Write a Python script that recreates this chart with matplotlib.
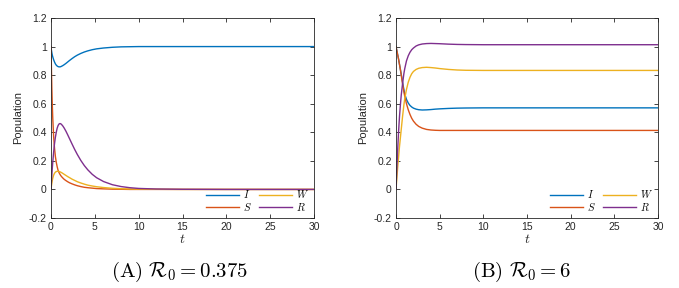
import matplotlib
matplotlib.use('Agg')
import matplotlib.pyplot as plt

plt.rcParams['font.family'] = ['Liberation Sans', 'DejaVu Sans']
plt.rcParams['mathtext.fontset'] = 'cm'

# panel A: R0 = 0.375
t_a = [0, 0.05, 0.1, 0.15, 0.2, 0.3, 0.4, 0.5, 0.6, 0.7, 0.8, 0.9, 1, 1.1, 1.2, 1.35, 1.5, 1.7, 1.9,
       2.1, 2.4, 2.7, 3, 3.4, 3.8, 4.2, 4.7, 5.2, 6, 7, 8, 9, 10, 12, 15, 20, 25, 30]
I_a = [1, 0.975, 0.955, 0.94, 0.928, 0.908, 0.892, 0.879, 0.87, 0.864, 0.86, 0.858, 0.858, 0.859,
       0.862, 0.867, 0.873, 0.882, 0.892, 0.902, 0.916, 0.929, 0.94, 0.952, 0.962, 0.97, 0.978,
       0.984, 0.99, 0.995, 0.998, 0.999, 1, 1, 1, 1, 1, 1]
S_a = [1, 0.84, 0.7, 0.59, 0.5, 0.37, 0.29, 0.23, 0.19, 0.16, 0.135, 0.12, 0.108, 0.098, 0.09,
       0.08, 0.071, 0.062, 0.054, 0.047, 0.039, 0.032, 0.026, 0.02, 0.015, 0.012, 0.009, 0.006,
       0.004, 0.002, 0.001, 0, 0, 0, 0, 0, 0, 0]
W_a = [0, 0.024, 0.045, 0.063, 0.078, 0.1, 0.113, 0.121, 0.125, 0.127, 0.127, 0.126, 0.124, 0.121,
       0.118, 0.112, 0.106, 0.098, 0.09, 0.083, 0.072, 0.063, 0.054, 0.045, 0.037, 0.03, 0.024,
       0.019, 0.013, 0.008, 0.005, 0.003, 0.002, 0.001, 0, 0, 0, 0]
R_a = [0, 0.055, 0.105, 0.15, 0.19, 0.26, 0.32, 0.365, 0.4, 0.428, 0.446, 0.457, 0.461, 0.46,
       0.455, 0.444, 0.43, 0.408, 0.383, 0.357, 0.318, 0.28, 0.245, 0.203, 0.167, 0.137, 0.106,
       0.082, 0.055, 0.033, 0.02, 0.012, 0.007, 0.003, 0.001, 0, 0, 0]

# panel B: R0 = 6
t_b = [0, 0.1, 0.2, 0.3, 0.4, 0.5, 0.6, 0.75, 0.9, 1, 1.2, 1.4, 1.6, 1.8, 2, 2.3, 2.6, 3, 3.5, 4,
       4.5, 5, 6, 7, 8, 10, 15, 20, 25, 30]
I_b = [1, 0.97, 0.94, 0.91, 0.875, 0.84, 0.805, 0.75, 0.7, 0.668, 0.63, 0.605, 0.588, 0.577,
       0.569, 0.562, 0.558, 0.556, 0.557, 0.559, 0.562, 0.564, 0.567, 0.569, 0.57, 0.571, 0.571,
       0.571, 0.571, 0.571]
S_b = [1, 0.97, 0.94, 0.91, 0.875, 0.84, 0.8, 0.74, 0.685, 0.652, 0.6, 0.558, 0.525, 0.498,
       0.478, 0.456, 0.441, 0.429, 0.42, 0.416, 0.414, 0.413, 0.413, 0.413, 0.413, 0.413, 0.413,
       0.413, 0.413, 0.413]
W_b = [0, 0.08, 0.16, 0.23, 0.3, 0.36, 0.42, 0.51, 0.59, 0.635, 0.7, 0.75, 0.785, 0.81, 0.826,
       0.84, 0.848, 0.853, 0.855, 0.853, 0.85, 0.846, 0.84, 0.836, 0.834, 0.833, 0.833, 0.833,
       0.833, 0.833]
R_b = [0, 0.15, 0.29, 0.41, 0.51, 0.59, 0.66, 0.74, 0.81, 0.845, 0.9, 0.935, 0.96, 0.978, 0.99,
       1.004, 1.012, 1.018, 1.021, 1.022, 1.021, 1.02, 1.017, 1.015, 1.014, 1.013, 1.013, 1.013,
       1.013, 1.013]

captions = [r'$\mathrm{(A)}\ \mathcal{R}_0 = 0.375$', r'$\mathrm{(B)}\ \mathcal{R}_0 = 6$']
colors = ['#0072BD', '#D95319', '#EDB120', '#7E2F8E']
ink = '#262626'

fig = plt.figure(figsize=(6.79, 2.88), dpi=100)
ax_a = fig.add_axes([51 / 679, 70 / 288, 263 / 679, 200 / 288])
ax_b = fig.add_axes([396 / 679, 70 / 288, 262 / 679, 200 / 288])

panels = [(ax_a, t_a, I_a, S_a, W_a, R_a), (ax_b, t_b, I_b, S_b, W_b, R_b)]
for ax, t, I, S, W, R in panels:
    h1, = ax.plot(t, I, color=colors[0], lw=1)
    h2, = ax.plot(t, S, color=colors[1], lw=1)
    h3, = ax.plot(t, W, color=colors[2], lw=1)
    h4, = ax.plot(t, R, color=colors[3], lw=1)
    ax.set_xlim(0, 30)
    ax.set_ylim(-0.2, 1.2)
    ax.set_xticks([0, 5, 10, 15, 20, 25, 30])
    ax.set_yticks([-0.2, 0, 0.2, 0.4, 0.6, 0.8, 1, 1.2])
    ax.set_yticklabels(['-0.2', '0', '0.2', '0.4', '0.6', '0.8', '1', '1.2'])
    ax.tick_params(direction='in', top=True, right=True, length=3, width=0.6,
                   labelsize=7.5, colors=ink, pad=3)
    for sp in ax.spines.values():
        sp.set_linewidth(0.6)
        sp.set_color(ink)
    ax.set_xlabel(r'$t$', fontsize=10, color=ink, labelpad=0)
    ax.set_ylabel('Population', fontsize=8, color=ink, labelpad=4)
    ax.legend([h1, h2, h3, h4], [r'$I$', r'$S$', r'$W$', r'$R$'], loc='lower right', ncol=2,
              frameon=False, fontsize=7.5, handlelength=3.2, handletextpad=0.35,
              columnspacing=0.7, labelspacing=0.05, borderaxespad=0.1)

fig.text(179 / 679, 1 - 272 / 288, captions[0], ha='center', va='center', fontsize=15)
fig.text(522 / 679, 1 - 272 / 288, captions[1], ha='center', va='center', fontsize=15)

fig.savefig('out.png', dpi=100)
